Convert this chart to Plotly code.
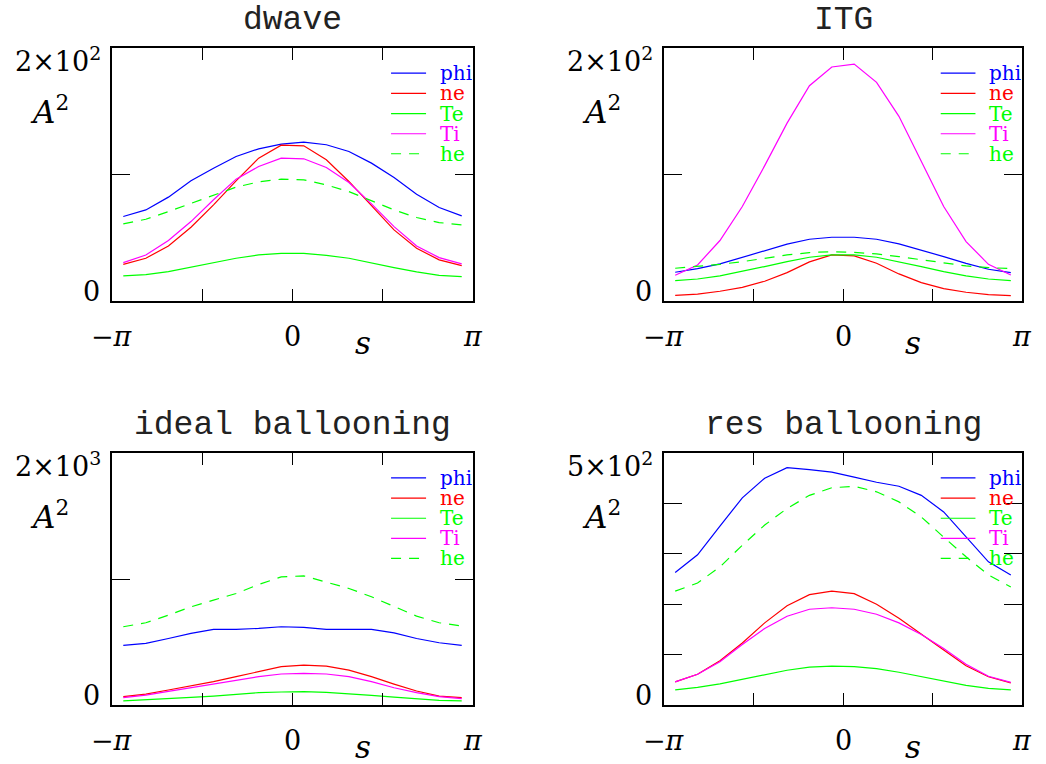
import numpy as np
import plotly.graph_objects as go

# sampling grid along the field line (cell centres on [-pi, pi])
s = np.linspace(-15 * np.pi / 16, 15 * np.pi / 16, 16)

series_names = ["phi", "ne", "Te", "Ti", "he"]
series_colors = ["#0000ff", "#ff0000", "#00ff00", "#ff00ff", "#00ff00"]
series_dash = ["solid", "solid", "solid", "solid", "10px,8px"]

panel_titles = ["dwave", "ITG", "ideal ballooning", "res ballooning"]
panel_ymax = [200, 200, 2000, 500]
panel_ystep = [100, 100, 1000, 100]
panel_top_labels = ["2×10<sup>2</sup>", "2×10<sup>2</sup>", "2×10<sup>3</sup>", "5×10<sup>2</sup>"]

# |A|^2 profiles, dwave case
dwave_phi = [66.8, 72.0, 82.1, 95.0, 105.0, 114.2, 120.3, 124.0, 125.6, 123.5, 118.2, 109.0, 97.6, 84.4, 73.9, 67.3]
dwave_ne = [29.0, 33.8, 43.5, 58.3, 76.0, 95.0, 112.9, 123.2, 122.7, 111.6, 94.5, 75.5, 56.2, 41.7, 32.5, 28.0]
dwave_Te = [19.8, 20.8, 23.2, 26.6, 30.3, 33.8, 36.4, 37.7, 37.7, 36.1, 33.8, 29.8, 26.4, 23.0, 20.3, 19.3]
dwave_Ti = [30.3, 36.4, 47.8, 62.8, 80.0, 96.3, 106.3, 112.9, 112.4, 105.5, 93.7, 76.8, 58.8, 43.5, 34.3, 29.3]
dwave_he = [61.0, 64.6, 70.7, 77.3, 83.9, 90.0, 94.2, 96.3, 95.8, 91.8, 86.5, 79.2, 72.0, 66.0, 62.0, 60.2]

# ITG case
itg_phi = [22.7, 25.6, 29.3, 34.6, 39.8, 44.9, 48.8, 50.4, 50.4, 48.8, 45.1, 40.4, 35.1, 29.8, 25.1, 22.4]
itg_ne = [4.5, 5.5, 7.7, 10.8, 15.6, 22.4, 30.9, 36.4, 35.6, 29.8, 21.4, 14.5, 9.8, 6.9, 5.0, 4.2]
itg_Te = [16.1, 17.4, 19.8, 23.2, 27.2, 31.1, 34.6, 36.4, 36.4, 34.6, 31.1, 27.2, 23.2, 19.8, 17.4, 16.1]
itg_Ti = [20.3, 28.5, 47.8, 74.7, 107.0, 140.6, 170.2, 185.0, 187.3, 172.8, 146.0, 110.3, 74.7, 47.0, 29.0, 20.6]
itg_he = [25.9, 27.2, 29.0, 31.1, 33.8, 36.4, 38.3, 39.0, 38.5, 37.2, 35.1, 32.5, 29.8, 27.7, 26.4, 25.6]

# ideal ballooning case
ib_phi = [473, 489, 528, 568, 600, 600, 608, 621, 616, 600, 600, 600, 573, 528, 494, 473]
ib_ne = [66, 87, 119, 151, 185, 225, 264, 304, 317, 309, 277, 225, 166, 111, 71, 58]
ib_Te = [32, 40, 50, 61, 71, 85, 98, 103, 106, 100, 90, 77, 63, 48, 37, 32]
ib_Ti = [58, 79, 108, 137, 166, 198, 225, 246, 251, 246, 225, 185, 137, 98, 66, 50]
ib_he = [621, 653, 713, 779, 832, 885, 956, 1017, 1025, 978, 925, 859, 779, 705, 653, 626]

# resistive ballooning case
rb_phi = [263, 298, 355, 411, 450, 471, 467, 462, 452, 442, 434, 416, 383, 333, 284, 258]
rb_ne = [46, 61, 88, 123, 163, 197, 219, 226, 221, 200, 172, 140, 109, 78, 56, 44]
rb_Te = [30, 35, 42, 51, 61, 69, 75, 77, 76, 72, 65, 56, 48, 39, 33, 30]
rb_Ti = [46, 61, 86, 120, 152, 176, 190, 193, 190, 180, 163, 140, 112, 81, 57, 45]
rb_he = [226, 242, 274, 317, 357, 390, 416, 431, 434, 423, 403, 373, 333, 294, 258, 234]

panel_series = [
    [dwave_phi, dwave_ne, dwave_Te, dwave_Ti, dwave_he],
    [itg_phi, itg_ne, itg_Te, itg_Ti, itg_he],
    [ib_phi, ib_ne, ib_Te, ib_Ti, ib_he],
    [rb_phi, rb_ne, rb_Te, rb_Ti, rb_he],
]

W, H = 1046, 764
# plot-area boxes in pixels: (left, right, top, bottom)
boxes = [(112, 473, 48, 301), (664, 1022, 48, 301),
         (112, 473, 453, 705), (664, 1022, 453, 705)]

FONT = "DejaVu Serif"
TITLE_FONT = "Liberation Mono"
fig = go.Figure()
annotations = []
shapes = []

legend_rows = [0.901, 0.821, 0.741, 0.661, 0.582]


def label(text, size, italic=False, **kw):
    font = dict(family=FONT, size=size, color="black")
    if italic:
        font["style"] = "italic"
    return dict(text=text, showarrow=False, font=font, **kw)


for k in range(4):
    ax = "" if k == 0 else str(k + 1)
    xa, ya = "x" + ax, "y" + ax
    left, right, top, bottom = boxes[k]
    ymax = panel_ymax[k]

    for name, col, dash, vals in zip(series_names, series_colors, series_dash, panel_series[k]):
        fig.add_trace(go.Scatter(x=s, y=vals, mode="lines", name=name,
                                 line=dict(color=col, width=1.2, dash=dash),
                                 xaxis=xa, yaxis=ya, showlegend=False,
                                 hoverinfo="skip"))

    axis_common = dict(showline=True, linecolor="black", linewidth=1.7, mirror="ticks",
                       ticks="inside", tickcolor="black", tickwidth=1,
                       showgrid=False, zeroline=False, showticklabels=False)
    fig.layout["xaxis" + ax] = dict(axis_common, domain=[left / W, right / W],
                                    range=[-np.pi, np.pi], anchor=ya, ticklen=12,
                                    tickvals=[-np.pi, -np.pi / 2, 0, np.pi / 2, np.pi])
    fig.layout["yaxis" + ax] = dict(axis_common, domain=[1 - bottom / H, 1 - top / H],
                                    range=[0, ymax], anchor=xa, ticklen=18,
                                    tickvals=list(range(0, ymax + 1, panel_ystep[k])))

    xd, yd = xa + " domain", ya + " domain"
    # panel title
    annotations.append(dict(text=panel_titles[k], xref=xd, yref=yd, x=0.5, y=1,
                            yshift=27, xanchor="center", yanchor="middle", showarrow=False,
                            font=dict(family=TITLE_FONT, size=33, color="#222")))
    # y tick labels
    annotations.append(label(panel_top_labels[k], 27, xref=xd, yref=yd, x=0, y=1,
                             xshift=-9, yshift=-12, xanchor="right", yanchor="middle"))
    annotations.append(label("0", 27, xref=xd, yref=yd, x=0, y=0,
                             xshift=-10, yshift=10, xanchor="right", yanchor="middle"))
    # x tick labels
    for xv, lab, it in zip([-np.pi, 0, np.pi], ["−π", "0", "π"], [True, False, True]):
        annotations.append(label(lab, 27, italic=it, xref=xa, yref=yd, x=xv, y=0,
                                 yshift=-35, xanchor="center", yanchor="middle"))
    # axis titles
    annotations.append(label("s", 31, italic=True, xref=xd, yref=yd, x=0.695, y=0,
                             yshift=-42, xanchor="center", yanchor="middle"))
    annotations.append(label("<i>A</i><sup>2</sup>", 31, xref=xd, yref=yd, x=0, y=1,
                             xshift=-63, yshift=-62, xanchor="center", yanchor="middle"))
    # key
    for row, name, col, dash in zip(legend_rows, series_names, series_colors, series_dash):
        shapes.append(dict(type="line", xref=xd, yref=yd, x0=0.773, x1=0.870, y0=row, y1=row,
                           line=dict(color=col, width=1.2, dash=dash)))
        annotations.append(dict(text=name, xref=xd, yref=yd, x=0.903, y=row,
                                xanchor="left", yanchor="middle", showarrow=False,
                                font=dict(family=FONT, size=20, color=col)))

fig.update_layout(width=W, height=H, margin=dict(l=0, r=0, t=0, b=0),
                  paper_bgcolor="white", plot_bgcolor="white",
                  annotations=annotations, shapes=shapes, showlegend=False)

fig.write_html("out.html")
